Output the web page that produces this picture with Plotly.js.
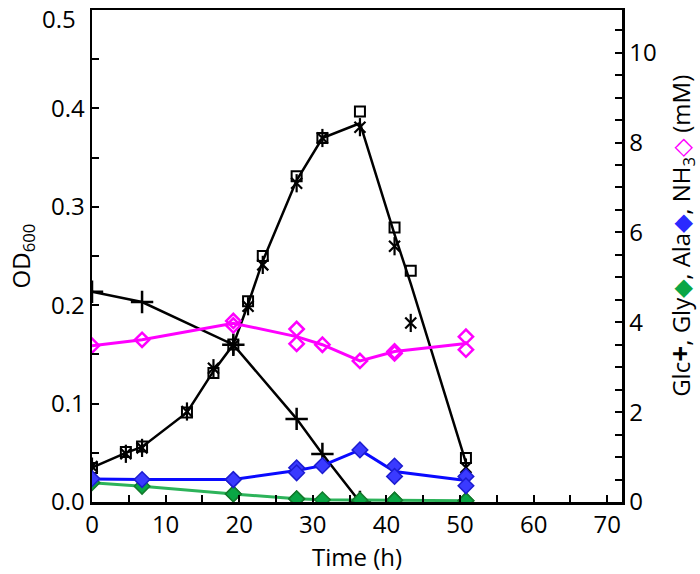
<!DOCTYPE html>
<html>
<head>
<meta charset="utf-8">
<script src="https://cdn.plot.ly/plotly-3.0.1.min.js"></script>
<style>html,body{margin:0;padding:0;background:#fff;}#chart{width:700px;height:574px;}</style>
</head>
<body>
<div id="chart"></div>
<script>
// OD600 (left axis)
const timeOD = [0, 4.6, 6.8, 12.9, 16.5, 19.2, 21.2, 23.2, 27.8, 31.3, 36.4, 41.1, 43.3, 50.8];
const odSquare = [0.0345, 0.0508, 0.0565, 0.091, 0.131, 0.160, 0.204, 0.250, 0.331, 0.370, 0.397, 0.279, 0.235, 0.0447];
const odStar   = [0.036, 0.049, 0.055, 0.092, 0.136, 0.159, 0.199, 0.241, 0.324, 0.370, 0.381, 0.260, 0.182, 0.035];
const odLine   = [0.035, 0.050, 0.056, 0.091, 0.133, 0.160, 0.201, 0.245, 0.327, 0.370, 0.385, 0.272, 0.222, 0.040];

// Concentrations (right axis, mM)
const timeGlc = [0, 6.8, 19.2, 27.8, 31.3, 36.4];
const glc     = [4.68, 4.45, 3.50, 1.85, 1.07, 0.0];

const timeSub = [0, 6.8, 19.2, 27.8, 31.3, 36.4, 41.1, 50.8];
const glyLine = [0.43, 0.35, 0.18, 0.07, 0.05, 0.04, 0.04, 0.03];
const alaLine = [0.51, 0.50, 0.50, 0.70, 0.81, 1.16, 0.68, 0.48];
const nh3Line = [3.48, 3.61, 3.98, 3.68, 3.50, 3.14, 3.35, 3.53];

const timeRep = [0, 6.8, 19.2, 19.2, 27.8, 27.8, 31.3, 36.4, 41.1, 41.1, 50.8, 50.8];
const glyPts  = [0.43, 0.35, 0.18, 0.18, 0.07, 0.07, 0.05, 0.04, 0.04, 0.04, 0.03, 0.03];
const alaPts  = [0.52, 0.50, 0.50, 0.50, 0.76, 0.65, 0.81, 1.16, 0.80, 0.57, 0.57, 0.36];
const nh3Pts  = [3.48, 3.61, 4.03, 3.93, 3.85, 3.52, 3.50, 3.14, 3.35, 3.31, 3.68, 3.39];

const xTicks = [0, 10, 20, 30, 40, 50, 60, 70];
const yLeftTicks = [0, 0.1, 0.2, 0.3, 0.4, 0.5];
const yRightTicks = [0, 2, 4, 6, 8, 10];

const FONT = '"Open Sans", sans-serif';
const FS = 24;
const black = '#000000';

const traces = [
  {x: timeOD, y: odLine, mode: 'lines', line: {color: black, width: 2.5}, yaxis: 'y'},
  {x: timeOD, y: odSquare, mode: 'markers', marker: {symbol: 'square-open', size: 10, color: black, line: {width: 2, color: black}}, yaxis: 'y'},
  {x: timeOD, y: odStar, mode: 'markers', marker: {symbol: 'x-thin-open', size: 11, color: black, line: {width: 2.2, color: black}}, yaxis: 'y'},
  {x: timeOD, y: odStar, mode: 'markers', marker: {symbol: 'line-ns-open', size: 13, color: black, line: {width: 2.2, color: black}}, yaxis: 'y'},
  {x: timeGlc, y: glc, mode: 'lines+markers', line: {color: black, width: 2.5}, marker: {symbol: 'cross-thin-open', size: 16, color: black, line: {width: 2.5, color: black}}, yaxis: 'y2'},
  {x: timeSub, y: nh3Line, mode: 'lines', line: {color: '#ff00ff', width: 3}, yaxis: 'y2'},
  {x: timeRep, y: nh3Pts, mode: 'markers', marker: {symbol: 'diamond-open', size: 11, color: '#ff00ff', line: {width: 2.5, color: '#ff00ff'}}, yaxis: 'y2'},
  {x: timeSub, y: glyLine, mode: 'lines', line: {color: '#2db35a', width: 3}, yaxis: 'y2'},
  {x: timeRep, y: glyPts, mode: 'markers', marker: {symbol: 'diamond', size: 12, color: '#0aa645', line: {width: 1.5, color: '#137a2c'}}, yaxis: 'y2'},
  {x: timeSub, y: alaLine, mode: 'lines', line: {color: '#0a0aff', width: 3}, yaxis: 'y2'},
  {x: timeRep, y: alaPts, mode: 'markers', marker: {symbol: 'diamond', size: 12, color: '#3a3aff', line: {width: 1.5, color: '#1c1cd0'}}, yaxis: 'y2'}
];

const rightTitle = 'Glc<b style="font-size:28px">+</b>, Gly<span style="color:#0aa645">◆</span>, Ala<span style="color:#2a2aff">◆</span>, NH<sub>3</sub><span style="color:#ff00ff">◇</span> (mM)';

// top left tick label drawn as an annotation so its box stays inside the page
const topLeftIdx = yLeftTicks.length - 1;
const leftTickText = yLeftTicks.map((v, i) => i === topLeftIdx ? '' : v.toFixed(1));

const layout = {
  width: 700, height: 574,
  margin: {l: 92, r: 78, t: 10, b: 72},
  paper_bgcolor: '#fff', plot_bgcolor: '#fff',
  showlegend: false,
  font: {family: FONT, size: FS, color: black},
  xaxis: {
    range: [0, 72], tickvals: xTicks, ticktext: xTicks.map(String),
    showgrid: false, zeroline: false,
    showline: true, linecolor: black, linewidth: 2.5, mirror: true,
    ticks: 'inside', ticklen: 7, tickwidth: 2, tickcolor: black,
    minor: {dtick: 5, tick0: 0, ticks: 'inside', ticklen: 7, tickwidth: 2, tickcolor: black, showgrid: false},
    tickfont: {family: FONT, size: FS},
    ticklabeloverflow: 'allow',
    title: {text: 'Time (h)', font: {family: FONT, size: FS}, standoff: 2}
  },
  yaxis: {
    range: [0, 0.5001], tickvals: yLeftTicks, ticktext: leftTickText,
    showgrid: false, zeroline: false,
    showline: true, linecolor: black, linewidth: 2.5,
    ticks: 'inside', ticklen: 7, tickwidth: 2, tickcolor: black,
    minor: {dtick: 0.05, tick0: 0, ticks: 'inside', ticklen: 7, tickwidth: 2, tickcolor: black, showgrid: false},
    tickfont: {family: FONT, size: FS},
    ticklabeloverflow: 'allow',
    title: {text: 'OD<sub>600</sub>', font: {family: FONT, size: FS}, standoff: 14}
  },
  yaxis2: {
    overlaying: 'y', side: 'right',
    range: [0, 10.95], tickvals: yRightTicks, ticktext: yRightTicks.map(String),
    showgrid: false, zeroline: false,
    showline: true, linecolor: black, linewidth: 2.5,
    ticks: 'inside', ticklen: 7, tickwidth: 2, tickcolor: black,
    minor: {dtick: 0.5, tick0: 0, ticks: 'inside', ticklen: 7, tickwidth: 2, tickcolor: black, showgrid: false},
    tickfont: {family: FONT, size: FS},
    ticklabeloverflow: 'allow'
  },
  annotations: [
    {
      text: rightTitle, textangle: -90,
      xref: 'paper', yref: 'paper', x: 1, y: 0.541,
      xanchor: 'center', yanchor: 'middle', xshift: 58,
      showarrow: false, font: {family: FONT, size: FS, color: black}
    },
    {
      text: yLeftTicks[topLeftIdx].toFixed(1),
      xref: 'paper', yref: 'y', x: 0, y: yLeftTicks[topLeftIdx],
      xanchor: 'right', yanchor: 'top', xshift: -14, yshift: 10,
      showarrow: false, font: {family: FONT, size: FS, color: black}
    }
  ]
};

Plotly.newPlot('chart', traces, layout, {staticPlot: true, displayModeBar: false});
</script>
</body>
</html>
